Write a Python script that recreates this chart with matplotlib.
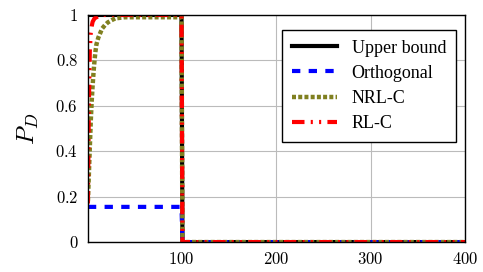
import matplotlib
matplotlib.use("Agg")
import matplotlib.pyplot as plt
import numpy as np
from matplotlib.ticker import FuncFormatter

plt.rcParams['mathtext.fontset'] = 'cm'
plt.rcParams['font.family'] = ['Liberation Serif', 'DejaVu Serif']

# Data (time steps 1..400)
t = np.arange(1, 401)
switch_t = 100

# Upper bound: 1 until 100, then 0
upper_level = 1.0
# Orthogonal: constant level until 100
orth_level = 0.155
nrl_t = [1, 2, 3, 4, 5, 6, 7, 8, 9, 10, 12, 14, 16, 19, 22, 26, 30, 40, 50, 100]
nrl_v = [0.18, 0.30, 0.42, 0.53, 0.62, 0.69, 0.75, 0.80, 0.84, 0.87, 0.90, 0.92, 0.94, 0.955, 0.967, 0.977, 0.985, 0.99, 0.99, 0.99]
# RL-C rise
rl_t = [1, 2, 3, 4, 5, 6, 8, 10, 15, 100]
rl_v = [0.17, 0.60, 0.84, 0.92, 0.95, 0.97, 0.985, 0.99, 1.0, 1.0]

def build(tt, vv):
    y = np.zeros_like(t, dtype=float)
    m = t <= switch_t
    y[m] = np.interp(t[m], tt, vv)
    return y

y_upper = np.where(t <= switch_t, upper_level, 0.0)
y_orth = np.where(t <= switch_t, orth_level, 0.0)
y_nrl = build(nrl_t, nrl_v)
y_rl = build(rl_t, rl_v)

fig = plt.figure(figsize=(4.83, 2.72), dpi=100)
ax = fig.add_axes([0.182, 0.110, 0.781, 0.835])

ax.plot(t, y_upper, color='black', lw=3.0, label='Upper bound')
ax.plot(t, y_orth, color='blue', lw=3.0, ls=(0, (2.0, 2.0)), label='Orthogonal')
ax.plot(t, y_nrl, color='#808020', lw=3.2, ls=(0, (0.9, 0.5)), label='NRL-C')
ax.plot(t, y_rl, color='red', lw=3.0, ls=(0, (3.0, 1.5, 0.5, 1.5, 0.5, 1.5)), label='RL-C')

ax.set_xlim(1, 400)
ax.set_ylim(0, 1)
ax.set_xticks([100, 200, 300, 400])
ax.set_yticks([0, 0.2, 0.4, 0.6, 0.8, 1.0])
fmt = FuncFormatter(lambda v, p: r'$%g$' % v)
ax.xaxis.set_major_formatter(fmt)
ax.yaxis.set_major_formatter(fmt)
ax.tick_params(direction='in', labelsize=12, length=0, pad=7)
ax.grid(True, color='#bbbbbb', lw=0.8)
ax.set_axisbelow(True)
for s in ax.spines.values():
    s.set_linewidth(1.0)
ax.set_ylabel(r'$P_D$', fontsize=18, labelpad=10)

leg = ax.legend(loc='upper right', fontsize=13, fancybox=False, edgecolor='black',
                framealpha=1, handlelength=2.5, borderpad=0.55, labelspacing=0.45,
                bbox_to_anchor=(1.0, 0.975))
leg.get_frame().set_linewidth(1.0)

fig.savefig('out.png', dpi=100)
